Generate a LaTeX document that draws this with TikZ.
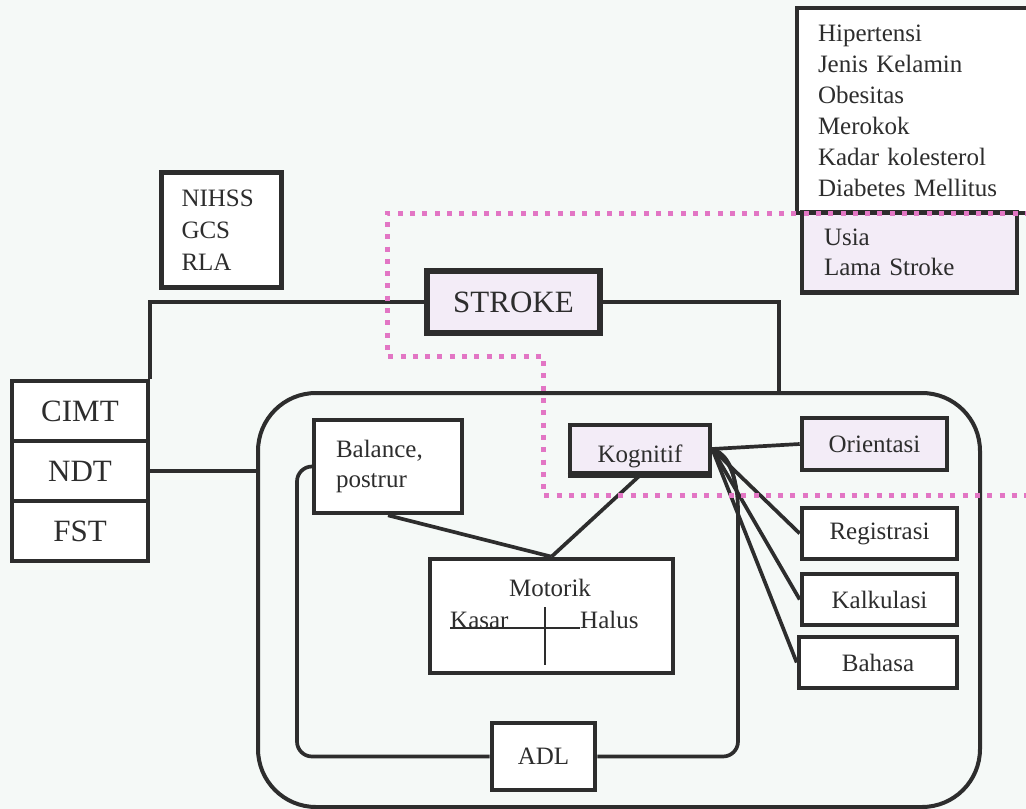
\documentclass[tikz,border=0pt]{standalone}
\usepackage{fontspec}
\setmainfont{Liberation Serif}
\definecolor{ink}{RGB}{45,45,45}
\definecolor{lav}{RGB}{243,236,247}
\definecolor{pinkdot}{RGB}{226,118,196}
\definecolor{paper}{RGB}{245,249,247}
\begin{document}
\begin{tikzpicture}[x=1pt,y=-1pt,
  box/.style={draw=ink, line width=4.6pt, inner sep=0pt, text=ink, fill=white},
  lavbox/.style={box, fill=lav},
  conn/.style={draw=ink, line width=3.7pt},
  thin/.style={draw=ink, line width=1.5pt},
  fsm/.style={font=\fontsize{25}{31}\selectfont},
  fbig/.style={font=\fontsize{31}{36}\selectfont},
  pinkline/.style={draw=pinkdot, line width=5pt, dash pattern=on 5pt off 7.3pt}]
\useasboundingbox (0,0) rectangle (1026,809);
\clip (0,0) rectangle (1026,809);
\fill[paper] (0,0) rectangle (1026,809);

% risk factor boxes
\node[box, fsm, minimum width=253, minimum height=205, text width=211, inner xsep=21, align=left] (risk) at (923.5,110.5)
  {Hipertensi\\Jenis Kelamin\\Obesitas\\Merokok\\Kadar kolesterol\\Diabetes Mellitus};
\node[lavbox, fsm, minimum width=215, minimum height=80, text width=171, inner xsep=22, align=left,
  font=\fontsize{25}{30}\selectfont] (usia) at (909.5,252.5) {Usia\\Lama Stroke};

% assessment
\node[box, fsm, minimum width=120, minimum height=115, text width=80, inner xsep=20, align=left,
  font=\fontsize{25}{32}\selectfont] (assess) at (221.5,230) {NIHSS\\GCS\\RLA};

% stroke
\node[lavbox, fbig, line width=5.8pt, minimum width=173, minimum height=62] (stroke) at (513.5,302) {STROKE};

% therapies
\node[box, fbig, minimum width=136, minimum height=60] (cimt) at (80,411) {CIMT};
\node[box, fbig, minimum width=136, minimum height=60] (ndt) at (80,471) {NDT};
\node[box, fbig, minimum width=136, minimum height=60] (fst) at (80,531) {FST};

% big rounded frame
\node[draw=ink, line width=4pt, rounded corners=58, minimum width=722, minimum height=414, inner sep=0pt] (frame) at (619,600) {};
\coordinate (ftop) at (779,393);

% inner nodes
\node[box, fsm, minimum width=148, minimum height=93, text width=104, inner xsep=22, align=left,
  font=\fontsize{25}{30}\selectfont] (balance) at (388,466.5) {Balance,\\postrur};
\node[lavbox, fsm, minimum width=140, minimum height=48, text height=27pt, text depth=0pt] (kog) at (640,449) {Kognitif};
\draw[ink, line width=4.6pt] (kog.south west) -- (kog.south east);
\node[box, minimum width=243, minimum height=114] (motorik) at (551.5,616) {};
\node[fsm, text=ink, anchor=base, inner sep=0pt] (motlbl) at (550,596) {Motorik};
\node[fsm, text=ink, anchor=base west, inner sep=0pt] (kasar) at (450,628) {Kasar};
\node[fsm, text=ink, anchor=base west, inner sep=0pt] (halus) at (580,628) {Halus};
\draw[thin] (kasar.base west) -- (halus.base west);
\draw[thin] (545,607) -- (545,665);
\node[box, fsm, minimum width=103, minimum height=67] (adl) at (543.5,756.5) {ADL};

\node[lavbox, fsm, minimum width=145, minimum height=52] (orient) at (874.5,444) {Orientasi};
\node[box, fsm, minimum width=155, minimum height=51] (regis) at (879.5,533.5) {Registrasi};
\node[box, fsm, minimum width=155, minimum height=51] (kalk) at (879.5,599.5) {Kalkulasi};
\node[box, fsm, minimum width=158, minimum height=51] (bahasa) at (878,662.5) {Bahasa};

% connectors
\draw[conn] (stroke.west) -| (cimt.north east);
\draw[conn] (stroke.east) -| (ftop);
\draw[conn] (ndt.east) -- (ndt.east -| frame.west);
\draw[conn] (balance.south) -- (motorik.north);
\draw[conn] (kog.south) -- (motorik.north);
\draw[conn] (kog.east) -- (orient.west);
\draw[conn] (kog.east) -- (regis.west);
\draw[conn] (kog.east) -- (kalk.west);
\draw[conn] (kog.east) -- (bahasa.west);
\draw[conn] (kog.east) .. controls (722,452) and (733,462) .. (736,490);

% inner loop
\coordinate (lbl) at (297,756.5);
\coordinate (lbr) at (738,756.5);
\coordinate (lr) at (738,512);
\draw[conn, rounded corners=15] (balance.west) -| (lbl) -- (adl.west);
\draw[conn, rounded corners=15] (adl.east) -- (lbr) -- (lr);
\draw[conn] (lr) .. controls (738,476) and (728,456) .. (kog.east);

% pink dotted boundary
\draw[pinkline] (1030,213) -- (387,213) -- (387,356) -- (543,356) -- (543,495) -- (1030,495);
\end{tikzpicture}
\end{document}
